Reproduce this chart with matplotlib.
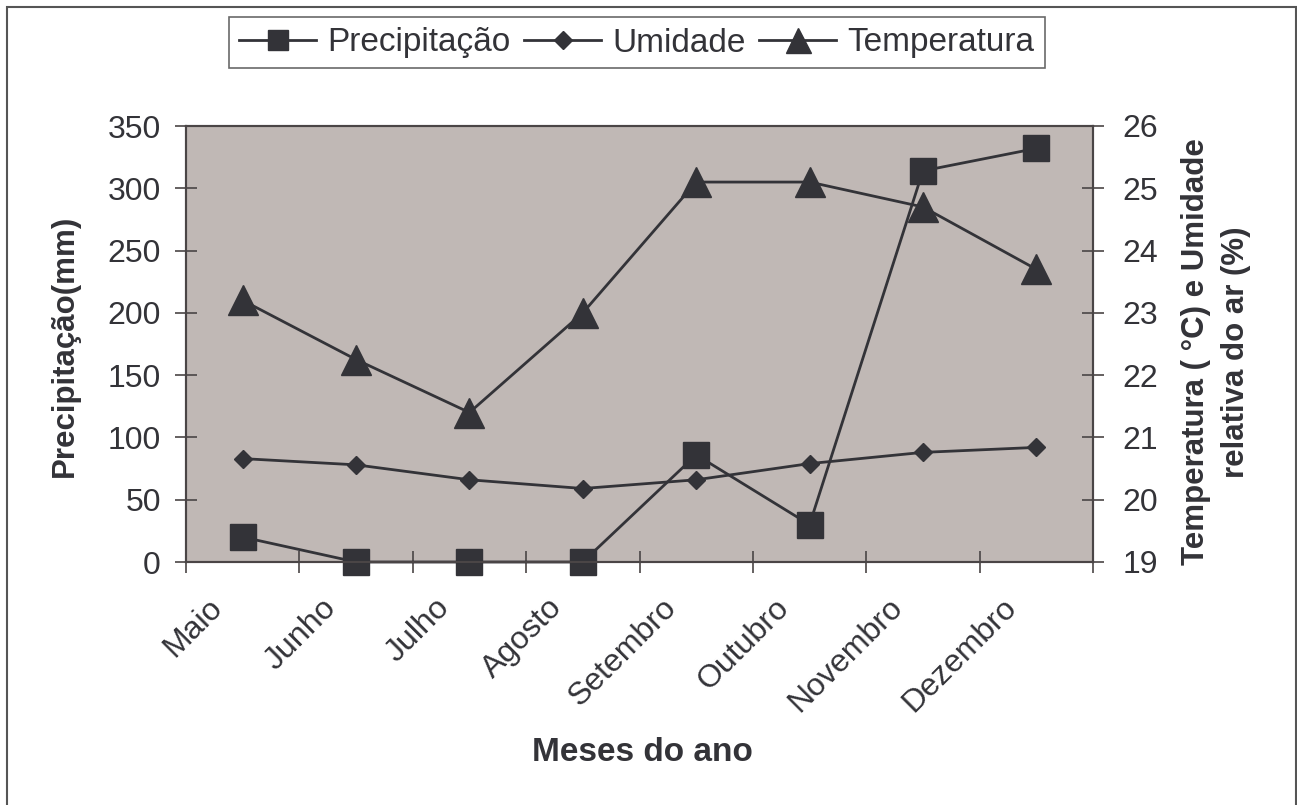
import numpy as np
import matplotlib
matplotlib.use('Agg')
import matplotlib.pyplot as plt
from matplotlib.lines import Line2D
from matplotlib.patches import Rectangle

plt.rcParams['font.family'] = ['Liberation Sans', 'DejaVu Sans']

meses = ['Maio', 'Junho', 'Julho', 'Agosto', 'Setembro', 'Outubro', 'Novembro', 'Dezembro']
precipitacao = [20, 0, 0, 0, 86, 30, 314, 332]
umidade = [83, 78, 66, 59, 66, 79, 88, 92]
temperatura = [23.2, 22.25, 21.4, 23.0, 25.1, 25.1, 24.7, 23.7]

dark = '#333338'
bg = '#c0b8b5'
axcol = '#4a4546'

fig = plt.figure(figsize=(12.97, 8.05), dpi=100)
ax = fig.add_axes([186/1297, 1 - 562/805, (1093-186)/1297, (562-126)/805])
ax2 = ax.twinx()

x = np.arange(len(meses))
ax.set_facecolor(bg)
ax.plot(x, precipitacao, color=dark, lw=2, marker='s', ms=19, mfc=dark, mec=dark, zorder=3, clip_on=False)
ax.plot(x, umidade, color=dark, lw=2, marker='D', ms=9, mfc=dark, mec=dark, zorder=3, clip_on=False)
ax2.plot(x, temperatura, color=dark, lw=2, marker='^', ms=21, mfc=dark, mec=dark, zorder=3, clip_on=False)

ax.set_xlim(-0.5, len(meses) - 0.5)
ax.set_ylim(0, 350)
ax.set_yticks(np.arange(0, 351, 50))
ax2.set_ylim(19, 26)
ax2.set_yticks(np.arange(19, 27, 1))

# ticks between the categories; labels (invisible minor ticks) a bit left of the categories,
# as Excel draws rotated labels
ax.set_xticks(np.arange(-0.5, len(meses), 1))
ax.set_xticklabels([])
ax.set_xticks(x - 0.31, minor=True)
ax.set_xticklabels(meses, minor=True, rotation=45, ha='right', va='top', rotation_mode='anchor',
                   fontsize=23, color=dark)
ax.tick_params(axis='x', which='minor', length=0, pad=22)
ax.tick_params(axis='x', which='major', direction='inout', length=16, width=1.2, color=axcol)
ax.tick_params(axis='y', direction='inout', length=16, width=1.2, color=axcol, labelsize=23,
               labelcolor=dark, pad=10)
ax2.tick_params(axis='y', direction='inout', length=16, width=1.2, color=axcol, labelsize=23,
                labelcolor=dark, pad=13)

for a in (ax, ax2):
    for s in a.spines.values():
        s.set_color(axcol)
        s.set_linewidth(1.5)

fig.text(65/1297, 1 - 346/805, 'Precipitação(mm)', rotation=90, fontsize=22.5, fontweight='bold',
         color=dark, ha='center', va='center')
fig.text(1216/1297, 1 - 352/805, 'Temperatura ( °C) e Umidade\nrelativa do ar (%)', rotation=90,
         fontsize=22.5, fontweight='bold', color=dark, ha='center', va='center',
         multialignment='center', linespacing=1.45)
fig.text(642/1297, 1 - 752/805, 'Meses do ano', fontsize=24, fontweight='bold', color=dark,
         ha='center', va='center')

handles = [
    Line2D([], [], color=dark, lw=2, marker='s', ms=15, mfc=dark, mec=dark),
    Line2D([], [], color=dark, lw=2, marker='D', ms=9, mfc=dark, mec=dark),
    Line2D([], [], color=dark, lw=2, marker='^', ms=18, mfc=dark, mec=dark),
]
leg = fig.legend(handles, ['Precipitação', 'Umidade', 'Temperatura'], loc='center',
                 bbox_to_anchor=(637/1297, 1 - 43/805), ncol=3, fontsize=24, frameon=True,
                 fancybox=False, handlelength=2.3, handletextpad=0.35, columnspacing=0.4,
                 borderpad=0.3)
leg.get_frame().set_edgecolor('#444444')
leg.get_frame().set_linewidth(1.2)
for t in leg.get_texts():
    t.set_color(dark)

# outer chart frame
fig.patches.append(Rectangle((7/1297, -0.01), (1296-7)/1297, 1 - 7/805 + 0.01, transform=fig.transFigure,
                             fill=False, edgecolor='#555555', lw=1.5))

fig.savefig('out.png', dpi=100)
